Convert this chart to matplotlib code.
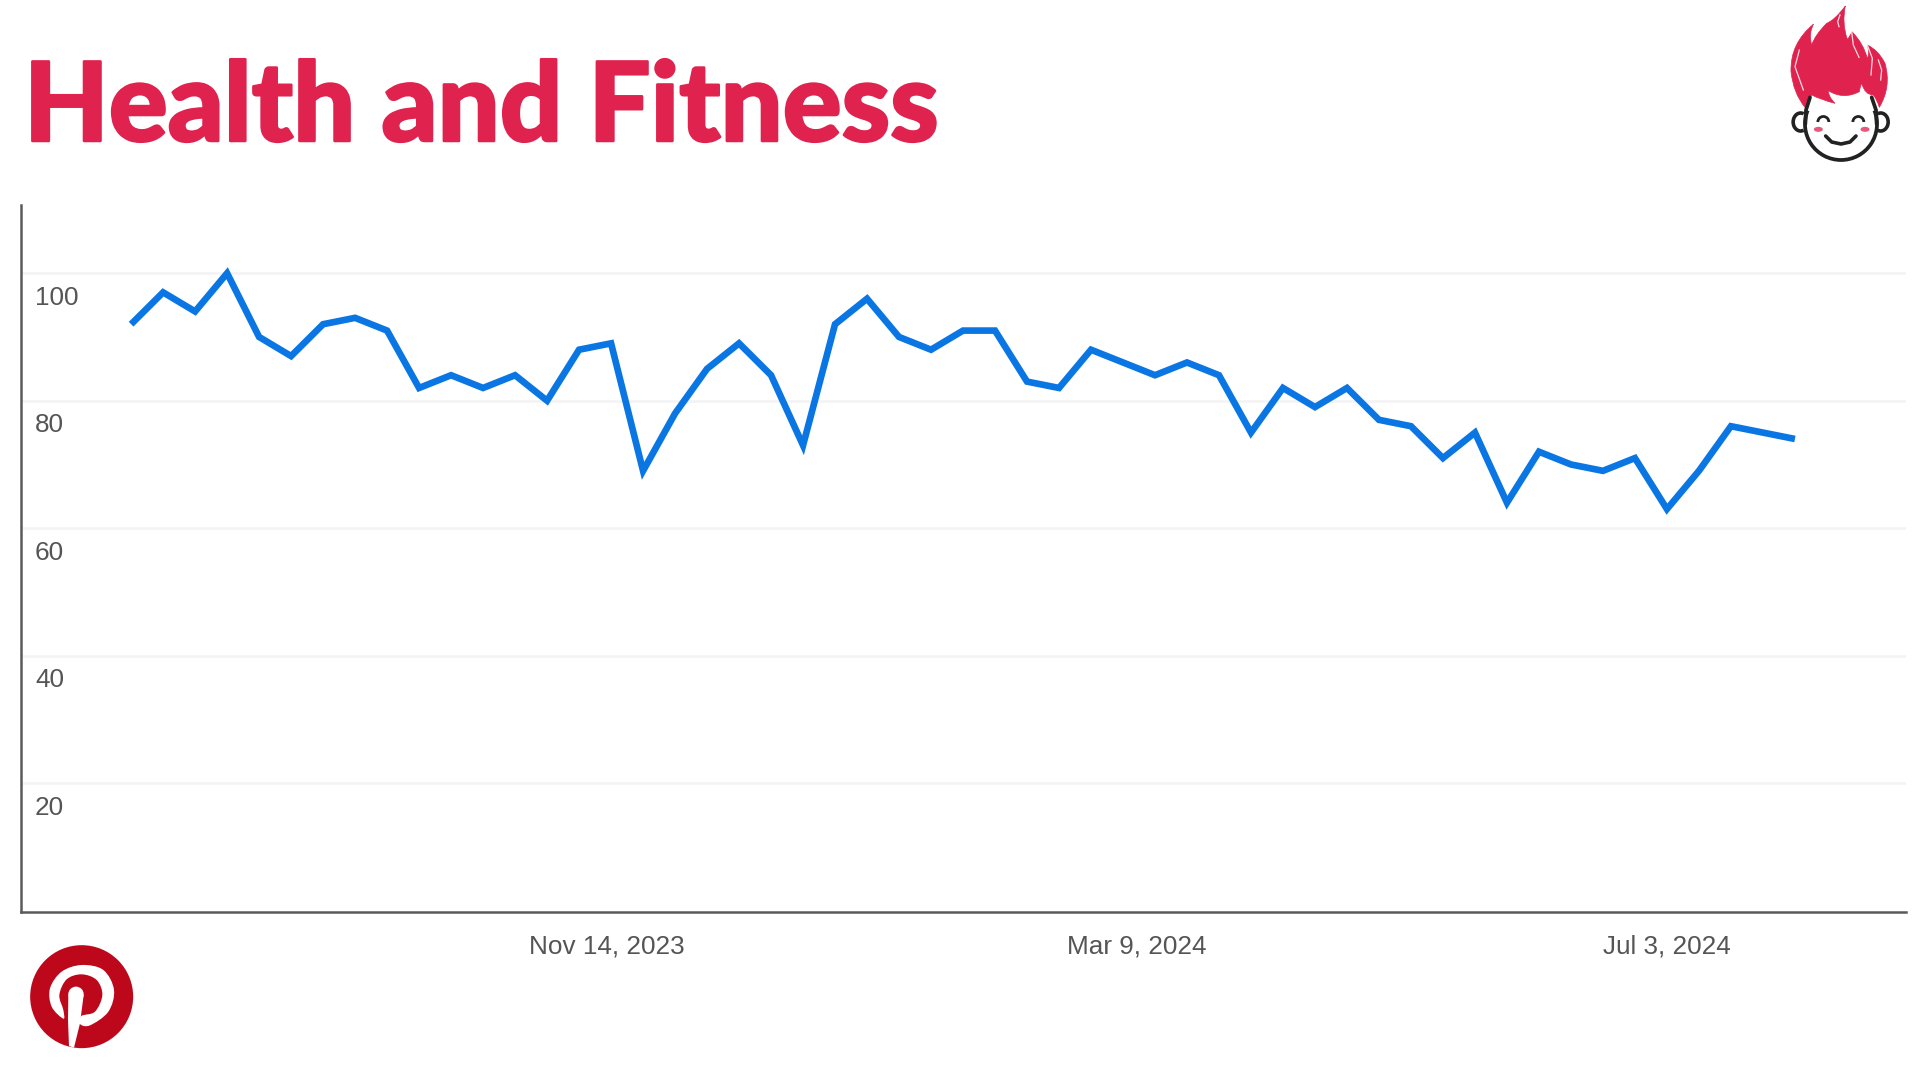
import matplotlib
matplotlib.use("Agg")
import matplotlib.pyplot as plt
import matplotlib.patheffects as pe
from matplotlib.patches import Circle, Ellipse, Arc, PathPatch
from matplotlib.path import Path
from matplotlib.transforms import ScaledTranslation
import pandas as pd

title = "Health and Fitness"
start_date = "2023-08-02"
values = [92, 97, 94, 100, 90, 87, 92, 93, 91, 82, 84, 82, 84, 80, 88, 89, 69, 78, 85, 89,
          84, 73, 92, 96, 90, 88, 91, 91, 83, 82, 88, 86, 84, 86, 84, 75, 82, 79, 82, 77,
          76, 71, 75, 64, 72, 70, 69, 71, 63, 69, 76, 75, 74]
y_ticks = [20, 40, 60, 80, 100]
x_tick_dates = ["2023-11-14", "2024-03-09", "2024-07-03"]
x_tick_labels = ["Nov 14, 2023", "Mar 9, 2024", "Jul 3, 2024"]

W, H = 1920, 1080
L, R, T, B = 20.5, 1906, 205, 912
dates = pd.date_range(start_date, periods=len(values), freq="7D")

fig = plt.figure(figsize=(W / 100, H / 100), dpi=100, facecolor="white")
ax = fig.add_axes([L / W, 1 - B / H, (R - L) / W, (B - T) / H])
ax.plot(dates, values, color="#0A76E4", lw=4.8, solid_joinstyle="miter", solid_capstyle="butt", zorder=3)
ax.set_ylim(-0.2, 110.7)
ax.set_xlim(dates[0] - pd.Timedelta(days=24.2), dates[0] + pd.Timedelta(days=388.3))
ax.set_yticks(y_ticks)
ax.set_yticklabels([str(v) for v in y_ticks])
ax.set_xticks(pd.to_datetime(x_tick_dates))
ax.set_xticklabels(x_tick_labels)
ax.grid(axis="y", color="#F4F4F4", lw=2.0, zorder=0)
ax.tick_params(axis="both", length=0, labelsize=18.8, labelcolor="#555555")
ax.tick_params(axis="x", pad=16)
ax.tick_params(axis="y", pad=-10.5)
for lab in ax.get_xticklabels() + ax.get_yticklabels():
    lab.set_fontfamily("Liberation Sans")
for lab in ax.get_yticklabels():
    lab.set_horizontalalignment("left")
    lab.set_transform(lab.get_transform() + ScaledTranslation(0, -22 / 100, fig.dpi_scale_trans))
for s in ("top", "right"):
    ax.spines[s].set_visible(False)
for s in ("left", "bottom"):
    ax.spines[s].set_color("#5A5A5A")
    ax.spines[s].set_linewidth(1.8)

t = fig.text(24 / W, 1 - 141 / H, title, color="#E0234E", fontsize=79, fontweight="black",
             family="Lato", ha="left", va="baseline")
t.set_path_effects([pe.withStroke(linewidth=1.8, foreground="#E0234E")])

# decorative logos, drawn in pixel coordinates
deco = fig.add_axes([0, 0, 1, 1], facecolor="none")
deco.set_xlim(0, W)
deco.set_ylim(H, 0)
deco.axis("off")

def smooth(points):
    verts = [points[0]]
    codes = [Path.MOVETO]
    n = len(points)
    for i in range(n):
        p0, p1, p2, p3 = points[(i - 1) % n], points[i], points[(i + 1) % n], points[(i + 2) % n]
        c1 = (p1[0] + (p2[0] - p0[0]) / 6, p1[1] + (p2[1] - p0[1]) / 6)
        c2 = (p2[0] - (p3[0] - p1[0]) / 6, p2[1] - (p3[1] - p1[1]) / 6)
        verts += [c1, c2, p2]
        codes += [Path.CURVE4] * 3
    return Path(verts, codes)

# Pinterest (zoom coordinates, 3x, origin 0,880)
pz = lambda x, y: (x / 3, 880 + y / 3)
deco.add_patch(Circle(pz(245, 350), 51.5, color="#BD081C", lw=0))
bowl = [(190, 416), (155, 380), (150, 325), (185, 275), (245, 255), (310, 270), (342, 330), (325, 395),
        (270, 436), (240, 432), (244, 408), (285, 395), (307, 345), (290, 300), (245, 283), (200, 298),
        (178, 345), (190, 390)]
stem = [(205, 345), (251, 345), (240, 430), (222, 503), (207, 498), (204, 420)]
deco.add_patch(PathPatch(smooth([pz(*p) for p in bowl]), fc="white", ec="none"))
deco.add_patch(PathPatch(Path([pz(*p) for p in stem] + [pz(*stem[0])]), fc="white", ec="none"))
deco.add_patch(Circle(pz(228, 343), 7.7, color="white", lw=0))

# Mascot (zoom coordinates, 3x, origin 1760,0)
mz = lambda x, y: (1760 + x / 3, y / 3)
hair_segments = [
    ((256, 18),), ((225, 60), (200, 70)), ((165, 105), (155, 135)), ((145, 100), (161, 72)),
    ((90, 130), (93, 215)), ((100, 280), (135, 322)), ((140, 295), (155, 285)), ((185, 300), (225, 310)),
    ((205, 290), (205, 272)), ((250, 300), (298, 275)), ((300, 260), (305, 250)), ((315, 285), (340, 285)),
    ((352, 300), (358, 322)), ((395, 260), (375, 190)), ((355, 150), (322, 135)), ((330, 160), (322, 175)),
    ((310, 130), (276, 95)), ((270, 110), (262, 118)), ((245, 70), (256, 18)),
]
hv, hc = [mz(*hair_segments[0][0])], [Path.MOVETO]
for ctrl, end in hair_segments[1:]:
    hv += [mz(*ctrl), mz(*end)]
    hc += [Path.CURVE3, Path.CURVE3]
deco.add_patch(PathPatch(Path(hv, hc), fc="#E0234E", ec="#E0234E", lw=0.5))
for pts in ([(275, 95), (280, 135), (297, 172)], [(322, 135), (337, 175), (333, 225)],
            [(118, 150), (105, 200), (130, 270)], [(240, 45), (233, 65), (237, 80)], [(355, 180), (365, 210), (362, 240)]):
    deco.plot(*zip(*[mz(*p) for p in pts]), color="white", lw=0.9, alpha=0.85)
ink = "#222222"
mcx, mcy = mz(243, 372)
deco.add_patch(Arc((mcx, mcy), 72, 72, theta1=-22, theta2=202, color=ink, lw=2.7))
for pts in ([(150, 292), (138, 330), (136, 372)], [(335, 292), (348, 330), (350, 372)]):
    deco.plot(*zip(*[mz(*p) for p in pts]), color=ink, lw=2.7, solid_capstyle="round")
for cx, t1, t2 in ((122, 70, 290), (362, -110, 110)):
    deco.add_patch(Arc(mz(cx, 366), 15, 18, theta1=t1, theta2=t2, color=ink, lw=2.6))
for cx in (190, 295):
    deco.add_patch(Arc(mz(cx, 366), 11, 11, theta1=180, theta2=360, color=ink, lw=2.0))
for cx in (175, 315):
    deco.add_patch(Ellipse(mz(cx, 388), 9, 5, color="#E8577A", lw=0))
deco.plot(*zip(*[mz(*p) for p in [(197, 408), (215, 426), (243, 432), (270, 426), (288, 408)]]), color=ink, lw=2.6,
          solid_capstyle="round")

fig.savefig("out.png", dpi=100)
